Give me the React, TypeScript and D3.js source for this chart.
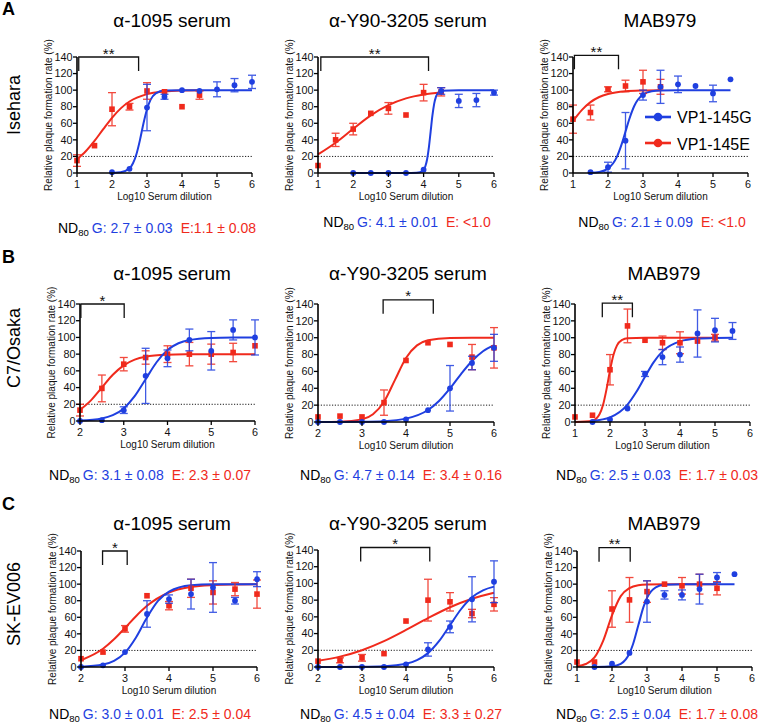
import React from "react";
import * as d3 from "d3";

type P = [number, number, number];
type C = [number, number];

const columnTitles = ["α-1095 serum", "α-Y90-3205 serum", "MAB979"];
const rowLetters = ["A", "B", "C"];
const rowStrains = ["Isehara", "C7/Osaka", "SK-EV006"];
const yTicks = [0, 20, 40, 60, 80, 100, 120, 140];
const legendLabels = ["VP1-145G", "VP1-145E"];
const yLabel = "Relative plaque formation rate (%)";
const xLabel = "Log10 Serum dilution";

// measured points [log10 dilution, mean %, sd]
const a1G: P[] = [[2,1,0],[2.5,5,0],[3,79,28],[3.5,92,3],[4,100,0],[4.5,99,0],[5,101,9],[5.5,106,8],[6,110,8]];
const a1E: P[] = [[1,15,7],[1.5,33,0],[2,77,20],[2.5,80,4],[3,99,10],[3.5,98,0],[4,80,0],[4.5,94,5]];
const a2G: P[] = [[2,0,0],[2.5,0,0],[3,0,0],[3.5,0,0],[4,4,0],[4.5,99,4],[5,87,8],[5.5,88,8],[6,97,3]];
const a2E: P[] = [[1,9,0],[1.5,40,8],[2,53,7],[2.5,72,0],[3,78,7],[3.5,70,0],[4,97,10],[4.5,98,5]];
const a3G: P[] = [[1.5,1,0],[2,7,6],[2.5,39,34],[3,94,6],[3.5,104,20],[4,107,10],[4.5,105,0],[5,96,10],[5.5,113,0]];
const a3E: P[] = [[1,65,17],[1.5,73,9],[2,101,3],[2.5,105,7],[3,110,14],[3.5,104,9]];
const b1G: P[] = [[2,0,0],[2.5,1,0],[3,13,4],[3.5,54,33],[4,75,10],[4.5,97,13],[5,84,23],[5.5,109,12],[6,100,21]];
const b1E: P[] = [[2,13,7],[2.5,39,16],[3,68,8],[3.5,76,8],[4,80,10],[4.5,80,14],[5,80,12],[5.5,82,11],[6,90,0]];
const b2G: P[] = [[2,0,0],[2.5,0,0],[3,0,0],[3.5,0,0],[4,3,0],[4.5,14,0],[5,40,27],[5.5,70,8],[6,88,16]];
const b2E: P[] = [[2,6,0],[2.5,7,0],[3,6,0],[3.5,23,15],[4,73,0],[4.5,94,0],[5,92,0],[5.5,77,15],[6,88,24]];
const b3G: P[] = [[1.5,0,0],[2,3,0],[2.5,16,0],[3,57,3],[3.5,77,9],[4,80,9],[4.5,105,28],[5,109,14],[5.5,108,10]];
const b3E: P[] = [[1,6,0],[1.5,8,0],[2,62,18],[2.5,114,20],[3,97,0],[3.5,94,8],[4,94,13],[4.5,96,0],[5,100,4]];
const c1G: P[] = [[2,0,0],[2.5,2,0],[3,18,0],[3.5,64,16],[4,82,5],[4.5,88,18],[5,96,30],[5.5,80,4],[6,106,9]];
const c1E: P[] = [[2,10,0],[2.5,18,0],[3,46,4],[3.5,86,0],[4,74,5],[4.5,95,11],[5,90,14],[5.5,94,8],[6,88,17]];
const c2G: P[] = [[2,0,0],[2.5,0,0],[3,0,0],[3.5,0,0],[4,3,0],[4.5,21,8],[5,48,7],[5.5,81,27],[6,102,25]];
const c2E: P[] = [[2,7,0],[2.5,8,3],[3,11,4],[3.5,16,0],[4,55,0],[4.5,80,25],[5,78,11],[5.5,64,5],[6,75,8]];
const c3G: P[] = [[1.5,0,0],[2,4,0],[2.5,17,0],[3,79,25],[3.5,87,5],[4,87,6],[4.5,94,18],[5,108,6],[5.5,112,0]];
const c3E: P[] = [[1,6,0],[1.5,6,0],[2,70,22],[2.5,81,27],[3,91,13],[3.5,100,0],[4,98,10],[4.5,100,12],[5,95,8]];

// fitted curves
const a1GCurve: C[] = [[2,0.1],[2.25,0.8],[2.5,5.6],[2.6,11.8],[2.7,23],[2.8,40],[2.9,60],[3,77],[3.1,88.2],[3.25,96.2],[3.5,99.5],[4,100],[5,100],[6,100]];
const a1ECurve: C[] = [[1,16.6],[1.25,26.2],[1.5,38.7],[1.75,52.9],[2,66.6],[2.25,78],[2.5,86.3],[3,95.2],[3.5,98.4],[4,99.5],[4.5,99.8]];
const a2GCurve: C[] = [[2,0],[3,0],[3.5,0],[3.8,0.2],[3.9,0.8],[4,3.8],[4.05,8.2],[4.1,16.6],[4.15,30.9],[4.2,50],[4.25,69.1],[4.3,83.4],[4.35,91.8],[4.4,96.2],[4.5,99.2],[5,100],[6,100]];
const a2ECurve: C[] = [[1,22.4],[1.5,36.5],[2,53.4],[2.5,69.6],[3,82],[3.5,90.1],[4,94.8],[4.5,97.3]];
const a3GCurve: C[] = [[1.5,0.3],[1.75,1.3],[2,5.3],[2.25,19.1],[2.4,36],[2.5,50],[2.6,64],[2.75,80.9],[3,94.7],[3.25,98.7],[3.5,99.7],[4,100],[5.5,100]];
const a3ECurve: C[] = [[1,62.5],[1.25,75.8],[1.5,85.5],[1.75,91.7],[2,95.4],[2.5,98.7],[3,99.6],[3.5,99.9]];
const b1GCurve: C[] = [[2,0.6],[2.5,3.1],[2.75,7],[3,15.1],[3.25,29.7],[3.5,50],[3.75,70.3],[4,84.9],[4.25,93],[4.5,96.9],[5,99.4],[5.5,99.9],[6,100]];
const b1ECurve: C[] = [[2,13.3],[2.25,24.7],[2.5,40],[2.75,55.3],[3,66.6],[3.25,73.5],[3.5,76.9],[4,79.2],[4.5,79.8],[5,80],[6,80]];
const b2GCurve: C[] = [[2,0],[3,0.3],[3.5,1],[4,4],[4.5,14.2],[4.75,24.9],[5,39.8],[5.25,56.9],[5.5,72.4],[5.75,84],[6,91.3]];
const b2ECurve: C[] = [[2,0],[2.5,0.3],[3,3.1],[3.25,9.1],[3.5,24],[3.75,50],[4,76],[4.25,90.9],[4.5,96.9],[5,99.7],[5.5,100],[6,100]];
const b3GCurve: C[] = [[1.5,1.3],[2,5.5],[2.5,20.6],[2.75,35.5],[3,53.7],[3.25,71.1],[3.5,83.8],[4,95.7],[4.5,99],[5,99.8],[5.5,100]];
const b3ECurve: C[] = [[1,0],[1.5,1.6],[1.7,9.1],[1.8,20.1],[1.9,38.7],[2,61.3],[2.1,79.9],[2.2,90.9],[2.35,97.5],[2.5,99.4],[3,100],[5,100]];
const c1GCurve: C[] = [[2,0.4],[2.5,2.9],[2.75,7.3],[3,17.3],[3.25,35.7],[3.5,59.7],[3.75,79.7],[4,91],[4.5,98.7],[5,99.8],[6,100]];
const c1ECurve: C[] = [[2,8.2],[2.5,22],[2.75,33.4],[3,47.1],[3.25,61.3],[3.5,73.8],[4,89.9],[4.5,96.6],[5,98.9],[5.5,99.6],[6,99.9]];
const c2GCurve: C[] = [[2,0],[3,0.2],[3.5,0.8],[4,3.8],[4.25,8.2],[4.5,16.6],[4.75,30.9],[5,50],[5.25,69.1],[5.5,83.4],[5.75,91.8],[6,96.2]];
const c2ECurve: C[] = [[2,7.4],[2.5,12.4],[3,20.1],[3.5,30.9],[4,44.3],[4.5,58.5],[5,71.5],[5.5,81.7],[6,88.8]];
const c3GCurve: C[] = [[1.5,0],[2,0.8],[2.25,3.8],[2.5,16.6],[2.6,27.5],[2.75,50],[2.9,72.5],[3,83.4],[3.25,96.2],[3.5,99.2],[4,100],[5.5,100]];
const c3ECurve: C[] = [[1,1],[1.25,3.6],[1.5,11.6],[1.75,31.9],[2,62.4],[2.25,85.5],[2.5,95.3],[2.75,98.7],[3,99.6],[3.5,100],[5,100]];

const xDomains: [number, number][] = [[1,6],[1,6],[1,6],[2,6],[2,6],[1,6],[2,6],[2,6],[1,6]];
const brackets: [number, number, string, number][] = [
  [1.05,2.76,"**",140],[1.08,4.14,"**",140],[1.04,2.3,"**",142],
  [2.02,3.01,"*",140],[3.48,4.62,"*",145],[1.78,2.64,"**",141],
  [2.49,3.05,"*",140],[2.97,4.54,"*",143],[1.63,2.52,"**",144],
];
const ndG = ["G: 2.7 ± 0.03","G: 4.1 ± 0.01","G: 2.1 ± 0.09","G: 3.1 ± 0.08","G: 4.7 ± 0.14","G: 2.5 ± 0.03","G: 3.0 ± 0.01","G: 4.5 ± 0.04","G: 2.5 ± 0.04"];
const ndE = ["E:1.1 ± 0.08","E: <1.0","E: <1.0","E: 2.3 ± 0.07","E: 3.4 ± 0.16","E: 1.7 ± 0.03","E: 2.5 ± 0.04","E: 3.3 ± 0.27","E: 1.7 ± 0.08"];

const panelData = [
  { g: a1G, e: a1E, gc: a1GCurve, ec: a1ECurve },
  { g: a2G, e: a2E, gc: a2GCurve, ec: a2ECurve },
  { g: a3G, e: a3E, gc: a3GCurve, ec: a3ECurve },
  { g: b1G, e: b1E, gc: b1GCurve, ec: b1ECurve },
  { g: b2G, e: b2E, gc: b2GCurve, ec: b2ECurve },
  { g: b3G, e: b3E, gc: b3GCurve, ec: b3ECurve },
  { g: c1G, e: c1E, gc: c1GCurve, ec: c1ECurve },
  { g: c2G, e: c2E, gc: c2GCurve, ec: c2ECurve },
  { g: c3G, e: c3E, gc: c3GCurve, ec: c3ECurve },
];

// layout (pixels)
const plotBoxes = [
  [77,252,57,173],[318,494,57,173],[573,748,57,173],
  [80,255,304,421],[318,494,304,422],[575,750,304,422],
  [81,257,551,667],[318,494,550,667],[577,752,551,667],
];
const titleX = [172,408,660,172,408,664,172,408,664];
const titleY = [27,27,27,280,280,280,530,530,530];
const ndX = [157,407,662,150,401,657,150,401,657];
const ndY = [233,227,227,480,480,480,719,719,719];
const letterY = [15,263,510];
const strainY = [105,348,604];

const BLUE = "#1f3fe0";
const RED = "#f02a1c";
const FONT = "'Liberation Sans', Arial, Helvetica, sans-serif";

function Panel({ i }: { i: number }) {
  const [l, r, t, b] = plotBoxes[i];
  const dom = xDomains[i];
  const x = d3.scaleLinear().domain(dom).range([l, r]);
  const y = d3.scaleLinear().domain([0, 140]).range([b, t]);
  const line = d3.line<C>().x(d => x(d[0])).y(d => y(d[1])).curve(d3.curveMonotoneX);
  const xTicks = d3.range(dom[0], dom[1] + 0.001, 1);
  const { g, e, gc, ec } = panelData[i];
  const [bx1, bx2, blab, btop] = brackets[i];
  const by = y(btop);
  const errBars = (pts: P[], color: string) =>
    pts.filter(p => p[2] > 0).map((p, k) => {
      const cx = x(p[0]);
      const y1 = y(p[1] - p[2]);
      const y2 = y(p[1] + p[2]);
      return (
        <g key={k} stroke={color} strokeWidth={1.3} opacity={0.85}>
          <line x1={cx} x2={cx} y1={y1} y2={y2} />
          <line x1={cx - 4} x2={cx + 4} y1={y1} y2={y1} />
          <line x1={cx - 4} x2={cx + 4} y1={y2} y2={y2} />
        </g>
      );
    });
  const midY = (t + b) / 2;
  return (
    <g>
      <line x1={l} x2={r} y1={y(20)} y2={y(20)} stroke="#000" strokeWidth={0.9} strokeDasharray="1.2,1.6" />
      <path d={line(ec) || ""} fill="none" stroke={RED} strokeWidth={2} />
      <path d={line(gc) || ""} fill="none" stroke={BLUE} strokeWidth={2} />
      {errBars(e, RED)}
      {e.map((p, k) => (
        <rect key={k} x={x(p[0]) - 2.8} y={y(p[1]) - 2.8} width={5.6} height={5.6} fill={RED} />
      ))}
      {errBars(g, BLUE)}
      {g.map((p, k) => (
        <circle key={k} cx={x(p[0])} cy={y(p[1])} r={2.9} fill={BLUE} />
      ))}
      <line x1={l} x2={l} y1={b} y2={t} stroke="#000" strokeWidth={1.6} />
      <line x1={l} x2={r} y1={b} y2={b} stroke="#000" strokeWidth={1.6} />
      {yTicks.map(v => (
        <g key={v}>
          <line x1={l - 4} x2={l} y1={y(v)} y2={y(v)} stroke="#000" strokeWidth={1.3} />
          <text x={l - 4.5} y={y(v) + 3.7} fontSize={10.8} textAnchor="end" fontFamily={FONT} fill="#111">{v}</text>
        </g>
      ))}
      {xTicks.map(v => (
        <g key={v}>
          <line x1={x(v)} x2={x(v)} y1={b} y2={b + 4} stroke="#000" strokeWidth={1.3} />
          <text x={x(v)} y={b + 14.5} fontSize={10.8} textAnchor="middle" fontFamily={FONT} fill="#111">{v}</text>
        </g>
      ))}
      <text x={(l + r) / 2} y={b + 27} fontSize={10} textAnchor="middle" fontFamily={FONT} fill="#111">{xLabel}</text>
      <text transform={`translate(${l - 25.5},${midY}) rotate(-90)`} fontSize={10} textAnchor="middle" fontFamily={FONT} fill="#111">{yLabel}</text>
      <path d={`M${x(bx1)},${by + 14}V${by}H${x(bx2)}V${by + 14}`} fill="none" stroke="#111" strokeWidth={1.3} />
      <text x={(x(bx1) + x(bx2)) / 2} y={by + 1.5} fontSize={15} textAnchor="middle" fontFamily={FONT} fill="#111">{blab}</text>
      <text x={titleX[i]} y={titleY[i]} fontSize={19} textAnchor="middle" fontFamily={FONT} fill="#000">{columnTitles[i % 3]}</text>
      <text x={ndX[i]} y={ndY[i]} fontSize={14} textAnchor="middle" fontFamily={FONT}>
        <tspan fill="#000">ND</tspan>
        <tspan fill="#000" fontSize={9.5} dy={3}>80</tspan>
        <tspan fill={BLUE} dy={-3} dx={3}>{ndG[i]}</tspan>
        <tspan fill={RED} dx={8}>{ndE[i]}</tspan>
      </text>
    </g>
  );
}

function Legend() {
  const rows = [
    { label: legendLabels[0], color: BLUE, y: 117, ty: 123 },
    { label: legendLabels[1], color: RED, y: 143, ty: 149.5 },
  ];
  return (
    <g>
      {rows.map((d, k) => (
        <g key={k}>
          <line x1={645} x2={671} y1={d.y} y2={d.y} stroke={d.color} strokeWidth={2.6} />
          <circle cx={658} cy={d.y} r={4.3} fill={d.color} />
          <text x={677} y={d.ty} fontSize={16} fontFamily={FONT} fill="#000">{d.label}</text>
        </g>
      ))}
    </g>
  );
}

export default function App() {
  return (
    <svg width={760} height={724} style={{ position: "absolute", left: 0, top: 0, background: "#fff" }}>
      <rect x={0} y={0} width={760} height={724} fill="#fff" />
      {rowLetters.map((s, k) => (
        <text key={s} x={2} y={letterY[k]} fontSize={18} fontWeight="bold" fontFamily={FONT}>{s}</text>
      ))}
      {rowStrains.map((s, k) => (
        <text key={s} transform={`translate(19.5,${strainY[k]}) rotate(-90)`} fontSize={18} textAnchor="middle" fontFamily={FONT}>{s}</text>
      ))}
      {plotBoxes.map((_, i) => <Panel key={i} i={i} />)}
      <Legend />
    </svg>
  );
}
